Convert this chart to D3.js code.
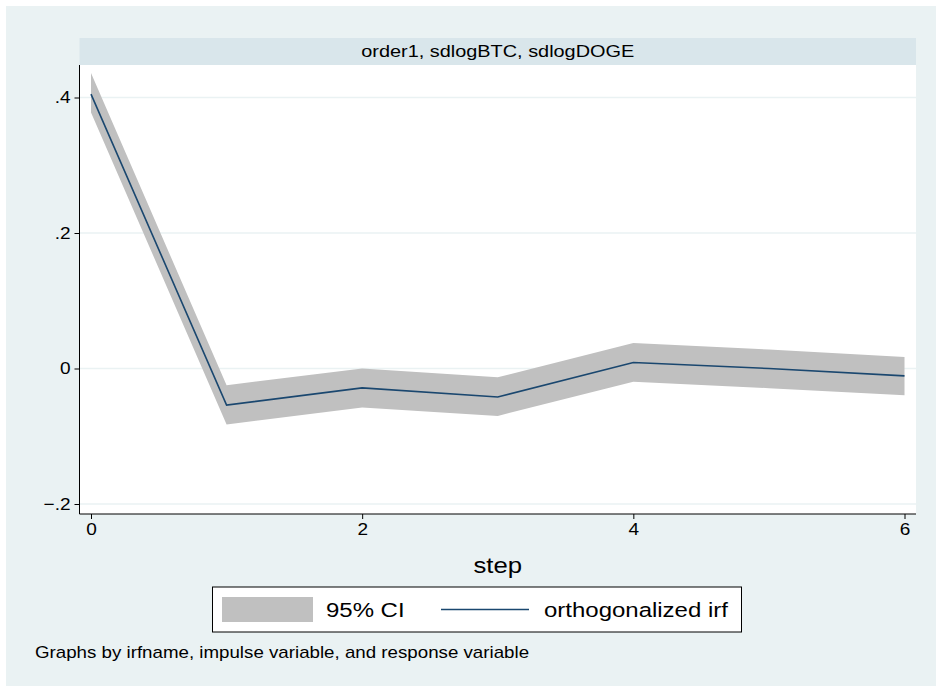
<!DOCTYPE html>
<html>
<head>
<meta charset="utf-8">
<script src="https://cdn.jsdelivr.net/npm/d3@7"></script>
<style>
  html, body { margin: 0; padding: 0; background: #ffffff; }
  text { font-family: "Liberation Sans", Arial, sans-serif; fill: #000; }
</style>
</head>
<body>
<div id="chart"></div>
<script>
// IRF panel: order1, impulse sdlogBTC, response sdlogDOGE
var steps = [0, 1, 2, 3, 4, 5, 6];
var irf   = [0.405, -0.054, -0.0286, -0.042, 0.0088, 0.0, -0.0109];
var lower = [0.378, -0.0826, -0.0575, -0.070, -0.0197, -0.029, -0.0394];
var upper = [0.436, -0.0246, 0.0, -0.013, 0.0377, 0.028, 0.017];
var yTicks = [-0.2, 0, 0.2, 0.4];
var yTickLabels = ["\u2212.2", "0", ".2", ".4"];
var xTicks = [0, 2, 4, 6];

var W = 936, H = 686;
var plot = {left: 79.5, right: 916, top: 65, bottom: 514};
var SX = 1.17; // stata text is a little wider than Liberation Sans

// widen a text element horizontally around its anchor
function widen(sel, sx) {
    sel.each(function() {
        var t = d3.select(this);
        var ax = +t.attr("x") || 0;
        var prev = t.attr("transform") || "";
        t.attr("transform", prev + " translate(" + ax + ",0) scale(" + sx + ",1) translate(" + (-ax) + ",0)");
    });
}

var svg = d3.select("#chart").append("svg")
    .attr("width", W)
    .attr("height", H);

// outer graph region
svg.append("rect")
    .attr("x", 6).attr("y", 6)
    .attr("width", W - 6).attr("height", H - 6)
    .attr("fill", "#eaf2f3");

// subgraph header strip
svg.append("rect")
    .attr("x", plot.left).attr("y", 38)
    .attr("width", plot.right - plot.left).attr("height", plot.top - 38)
    .attr("fill", "#d9e6eb");
svg.append("text")
    .attr("x", (plot.left + plot.right) / 2).attr("y", 57)
    .attr("text-anchor", "middle")
    .style("font-size", "17px")
    .text("order1, sdlogBTC, sdlogDOGE")
    .call(widen, SX);

// plot area
svg.append("rect")
    .attr("x", plot.left).attr("y", plot.top)
    .attr("width", plot.right - plot.left).attr("height", plot.bottom - plot.top)
    .attr("fill", "#ffffff");

var x = d3.scaleLinear().domain([0, 6]).range([91, 904.5]);
var y = d3.scaleLinear().domain([-0.2, 0.4]).range([504, 97.5]);

// gridlines
svg.append("g").selectAll("line")
    .data(yTicks)
    .enter().append("line")
    .attr("x1", plot.left).attr("x2", plot.right)
    .attr("y1", function(d) { return y(d); })
    .attr("y2", function(d) { return y(d); })
    .attr("stroke", "#eaf2f3")
    .attr("stroke-width", 1.5);

var rows = steps.map(function(s, i) {
    return {step: s, irf: irf[i], lo: lower[i], hi: upper[i]};
});

// confidence band
svg.append("path")
    .datum(rows)
    .attr("fill", "#c0c0c0")
    .attr("d", d3.area()
        .x(function(d) { return x(d.step); })
        .y0(function(d) { return y(d.lo); })
        .y1(function(d) { return y(d.hi); }));

// irf line
svg.append("path")
    .datum(rows)
    .attr("fill", "none")
    .attr("stroke", "#1a476f")
    .attr("stroke-width", 1.6)
    .attr("d", d3.line()
        .x(function(d) { return x(d.step); })
        .y(function(d) { return y(d.irf); }));

// y axis
var yAxis = svg.append("g")
    .attr("transform", "translate(" + plot.left + ",0)")
    .call(d3.axisLeft(y).tickValues(yTicks).tickSize(5).tickPadding(4)
        .tickFormat(function(d, i) { return yTickLabels[i]; }));
yAxis.select(".domain").attr("d", "M0," + plot.top + "V" + plot.bottom).attr("stroke", "#000");
yAxis.selectAll(".tick line").attr("stroke", "#000");
yAxis.selectAll("text").style("font-size", "17px").attr("font-family", null).attr("fill", "#000")
    .call(widen, 1.12);

// x axis
var xAxis = svg.append("g")
    .attr("transform", "translate(0," + plot.bottom + ")")
    .call(d3.axisBottom(x).tickValues(xTicks).tickSize(5).tickPadding(4)
        .tickFormat(d3.format("d")));
xAxis.select(".domain").attr("d", "M" + plot.left + ",0H" + plot.right).attr("stroke", "#000");
xAxis.selectAll(".tick line").attr("stroke", "#000");
xAxis.selectAll("text").style("font-size", "17px").attr("font-family", null).attr("fill", "#000")
    .call(widen, 1.12);

// x axis title
svg.append("text")
    .attr("x", (plot.left + plot.right) / 2).attr("y", 573)
    .attr("text-anchor", "middle")
    .style("font-size", "22px")
    .text("step")
    .call(widen, SX);

// legend
var legend = svg.append("g");
legend.append("rect")
    .attr("x", 212.5).attr("y", 587)
    .attr("width", 529).attr("height", 45)
    .attr("fill", "#ffffff")
    .attr("stroke", "#000")
    .attr("stroke-width", 1);
legend.append("rect")
    .attr("x", 222).attr("y", 597)
    .attr("width", 91).attr("height", 25)
    .attr("fill", "#c0c0c0");
legend.append("text")
    .attr("x", 326).attr("y", 617.5)
    .style("font-size", "20.5px")
    .text("95% CI")
    .call(widen, SX);
legend.append("line")
    .attr("x1", 441).attr("x2", 529)
    .attr("y1", 609.5).attr("y2", 609.5)
    .attr("stroke", "#1a476f")
    .attr("stroke-width", 1.6);
legend.append("text")
    .attr("x", 544).attr("y", 617.5)
    .style("font-size", "20.5px")
    .text("orthogonalized irf")
    .call(widen, SX);

// note
svg.append("text")
    .attr("x", 35).attr("y", 658)
    .style("font-size", "16px")
    .text("Graphs by irfname, impulse variable, and response variable")
    .call(widen, SX);
</script>
</body>
</html>
